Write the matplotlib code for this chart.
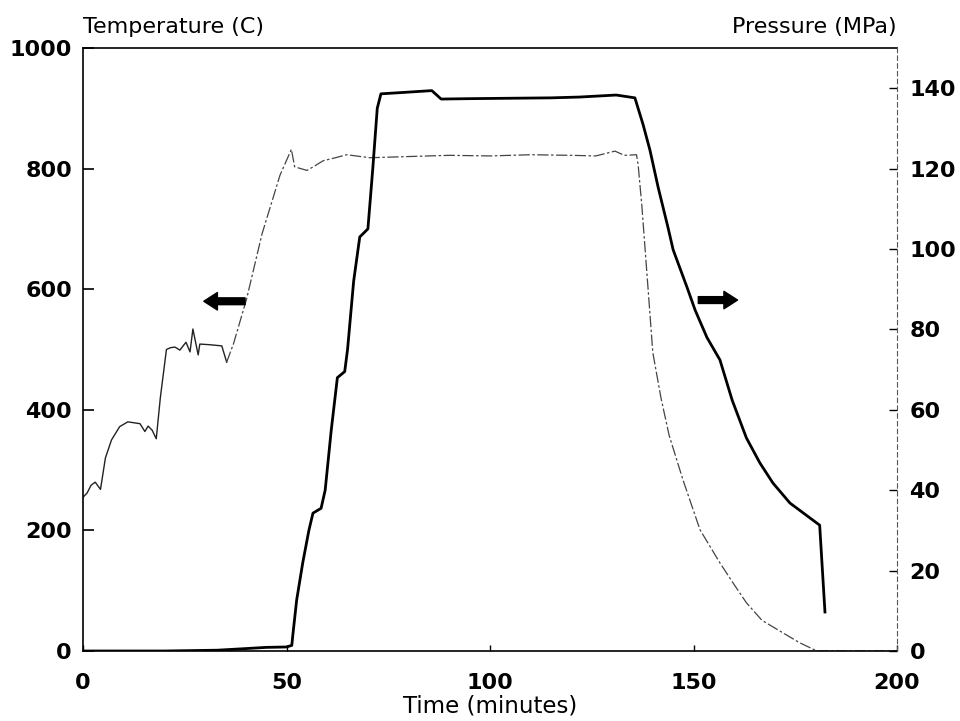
import matplotlib
matplotlib.use('Agg')
import matplotlib.pyplot as plt

# temperature trace (left axis, C)
temp_t = [0, 1, 2, 3, 4.3, 5.5, 7, 9, 11, 14, 15.2, 16, 17, 18, 19, 20.5, 21.5,
          22.6, 23.8, 25.3, 26.3, 27, 28.3, 28.7, 31, 34.1, 35.3, 37, 40.2, 44,
          48.4, 51.2, 52, 55, 56.6, 59, 62, 64.8, 70.5, 80, 90, 100, 110, 120,
          126, 130.7, 133, 136, 136.4, 137.3, 138.9, 140, 142, 144, 147.4, 151.6,
          156.5, 160, 163, 166.8, 170, 172, 176, 180.3, 200]
temp_T = [255, 262, 275, 280, 268, 320, 350, 372, 380, 377, 364, 373, 366, 352,
          420, 500, 503, 504, 499, 512, 496, 534, 491, 509, 508, 506, 479, 510,
          584, 692, 789, 832, 803, 797, 803, 813, 818, 823, 818, 820, 822, 821,
          823, 822, 821, 829, 822, 823, 806, 739, 595, 495, 420, 358, 284, 201,
          146, 110, 80, 51, 38, 30, 14, 0, 0]

# pressure trace (right axis, MPa)
pres_t = [0, 20, 33, 40, 45, 50, 51.3, 51.6, 52.5, 54, 55.5, 56.5, 58.5, 59.5,
          61, 62.5, 64.3, 65, 66.5, 68, 70, 71.2, 72.3, 73.2, 78, 85.7, 88, 95,
          105, 115, 122, 131, 135.6, 137.6, 139.3, 141.3, 143.7, 145, 148.4,
          150.4, 153.3, 156.5, 159.5, 163, 166.3, 169.5, 173.7, 181, 182.3]
pres_P = [0, 0, 0.2, 0.6, 0.9, 1.0, 1.4, 4.4, 12.7, 22, 30, 34.3, 35.5, 40, 55,
          68, 69.5, 75, 92, 103, 105, 120, 135, 138.6, 138.9, 139.4, 137.3,
          137.4, 137.5, 137.6, 137.8, 138.3, 137.6, 131, 124.6, 115.4, 105.5,
          99.8, 90.5, 84.8, 78, 72.4, 62.4, 53, 46.8, 41.8, 36.8, 31.3, 9.7]

x_ticks = [0, 50, 100, 150, 200]
temp_ticks = [0, 200, 400, 600, 800, 1000]
pres_ticks = [0, 20, 40, 60, 80, 100, 120, 140]

fig = plt.figure(figsize=(9.6, 7.21), dpi=100)
ax = fig.add_axes([83/960, 1 - 651/721, (897 - 83)/960, (651 - 48)/721])
ax2 = ax.twinx()

# temperature: solid early part, broken line after ~35 min
split = temp_t.index(35.3) + 1
ax.plot(temp_t[:split], temp_T[:split], color='#222222', lw=1.0)
ax.plot(temp_t[split - 1:], temp_T[split - 1:], color='#444444', lw=0.9,
        dashes=(9, 2, 2, 2))

ax2.plot(pres_t, pres_P, color='black', lw=2.0)

ax.set_xlim(0, 200)
ax.set_ylim(0, 1000)
ax2.set_ylim(0, 150)
ax.set_xticks(x_ticks)
ax.set_yticks(temp_ticks)
ax2.set_yticks(pres_ticks)

ax.tick_params(axis='y', direction='in', length=8, width=1.2, pad=8, labelsize=16)
ax.tick_params(axis='x', direction='in', length=4, width=1.0, pad=16, labelsize=16)
ax2.tick_params(axis='y', direction='in', length=6, width=1.0, pad=9, labelsize=16)
for lab in ax.get_xticklabels() + ax.get_yticklabels() + ax2.get_yticklabels():
    lab.set_fontweight('bold')

for s in ['top', 'bottom', 'left']:
    ax.spines[s].set_linewidth(1.2)
ax.spines['right'].set_visible(False)
ax2.spines['top'].set_visible(False)
ax2.spines['bottom'].set_visible(False)
ax2.spines['left'].set_visible(False)
ax2.spines['right'].set_linestyle((0, (4, 3)))
ax2.spines['right'].set_linewidth(0.8)
ax2.spines['right'].set_color('#555555')

ax.set_xlabel('Time (minutes)', fontsize=16.5, labelpad=1)
fig.text(83/960, 1 - 27/721, 'Temperature (C)', fontsize=16, ha='left', va='center')
fig.text(897/960, 1 - 27/721, 'Pressure (MPa)', fontsize=16, ha='right', va='center')

arrow_style = 'simple,head_length=0.7,head_width=0.9,tail_width=0.35'
ax.annotate('', xy=(29, 580), xytext=(40.5, 580),
            arrowprops=dict(arrowstyle=arrow_style, color='black', mutation_scale=14))
ax.annotate('', xy=(161.5, 582), xytext=(150.5, 582),
            arrowprops=dict(arrowstyle=arrow_style, color='black', mutation_scale=14))

fig.savefig('out.png', dpi=100)
